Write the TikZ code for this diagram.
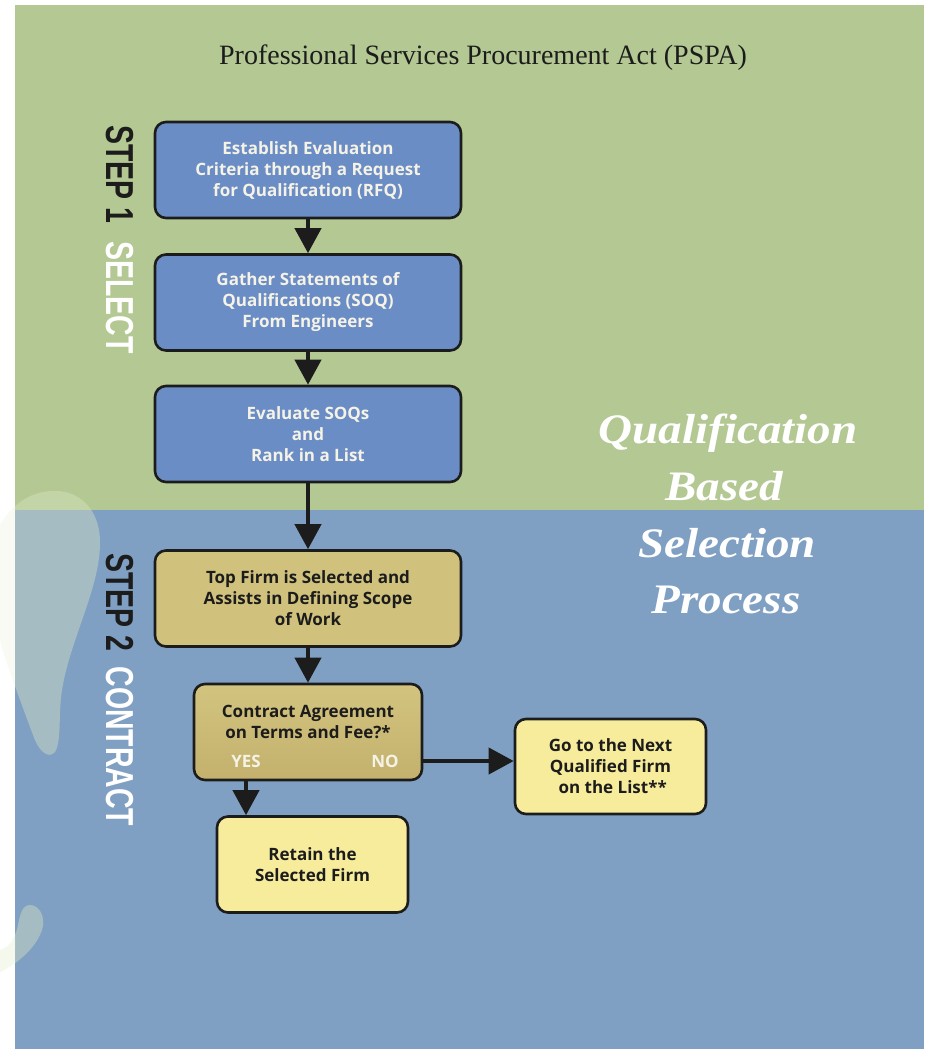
\documentclass[tikz,border=0pt]{standalone}
\usepackage{fontspec}
\setmainfont{Liberation Serif}
\newfontfamily\boxfont{Open Sans}
\newfontfamily\stepfont{Liberation Sans}
\usetikzlibrary{arrows.meta}
\definecolor{bggreen}{HTML}{B3C892}
\definecolor{bgblue}{HTML}{7FA0C2}
\definecolor{boxblue}{HTML}{6B8DC5}
\definecolor{boxgold}{HTML}{D0C27C}
\definecolor{goldtop}{HTML}{D2C47F}
\definecolor{goldbot}{HTML}{C3B16D}
\definecolor{boxyellow}{HTML}{F6EC9C}
\definecolor{inkc}{HTML}{1C1C1C}
\definecolor{paletxt}{HTML}{F5F2E6}
\definecolor{swoosh}{HTML}{DCE8C4}
\tikzset{
  box/.style={draw=inkc, line width=2.6pt, rounded corners=11pt, align=center,
    inner sep=0pt, font=\boxfont\bfseries\fontsize{17}{21}\selectfont},
  bluebox/.style={box, fill=boxblue, text=paletxt, minimum width=306pt, minimum height=96pt},
  goldbox/.style={box, fill=boxgold, text=inkc, minimum width=306pt, minimum height=96pt},
  yellowbox/.style={box, fill=boxyellow, text=inkc, minimum width=191pt, minimum height=96pt},
  boxtext/.style={align=center, inner sep=0pt, text=inkc, font=\boxfont\bfseries\fontsize{17}{21}\selectfont},
  yn/.style={inner sep=0pt, text=paletxt, font=\boxfont\bfseries\fontsize{17}{21}\selectfont},
  arr/.style={draw=inkc, line width=4pt, -{Triangle[width=26pt,length=25pt]}},
  steplabel/.style={rotate=-90, anchor=base west, inner sep=0pt, font=\stepfont\bfseries\fontsize{39}{40}\selectfont},
  qbs/.style={anchor=base, inner sep=0pt, text=white, font=\bfseries\itshape\fontsize{42}{44}\selectfont},
}
\begin{document}
\begin{tikzpicture}[x=1pt,y=-1pt]
\useasboundingbox (0,0) rectangle (924,1049);
\fill[white] (0,0) rectangle (924,1049);
\fill[bggreen] (15,5) rectangle (924,510);
\fill[bgblue] (15,510) rectangle (924,1049);
% decorative swooshes
\begin{scope}
\clip (15,5) rectangle (924,1049);
\fill[swoosh, opacity=0.4] (0,525) .. controls (15,500) and (35,490) .. (58,491)
  .. controls (85,493) and (101,515) .. (100,545)
  .. controls (99,590) and (70,640) .. (62,690)
  .. controls (58,715) and (62,740) .. (55,752)
  .. controls (48,760) and (38,750) .. (33,735)
  .. controls (20,700) and (5,660) .. (0,640) -- cycle;
\fill[swoosh, opacity=0.4] (0,972) .. controls (15,965) and (35,950) .. (42,930)
  .. controls (46,918) and (40,905) .. (30,905)
  .. controls (22,905) and (20,915) .. (18,925)
  .. controls (15,940) and (8,948) .. (0,950) -- cycle;
\end{scope}
\begin{scope}
\clip (0,0) rectangle (15,1049);
\fill[swoosh, opacity=0.2] (0,525) .. controls (15,500) and (35,490) .. (58,491)
  .. controls (85,493) and (101,515) .. (100,545)
  .. controls (99,590) and (70,640) .. (62,690)
  .. controls (58,715) and (62,740) .. (55,752)
  .. controls (48,760) and (38,750) .. (33,735)
  .. controls (20,700) and (5,660) .. (0,640) -- cycle;
\fill[swoosh, opacity=0.3] (0,972) .. controls (15,965) and (35,950) .. (42,930)
  .. controls (46,918) and (40,905) .. (30,905)
  .. controls (22,905) and (20,915) .. (18,925)
  .. controls (15,940) and (8,948) .. (0,950) -- cycle;
\end{scope}
% title
\node[anchor=base, inner sep=0pt, text=inkc, font=\fontsize{28}{30}\selectfont] (title) at (483,65)
  {Professional Services Procurement Act (PSPA)};
% step labels
\node[steplabel] (s1) at (106,125) {\scalebox{0.73}[1]{\textcolor{inkc}{STEP 1}\hspace{25pt}\textcolor{white}{SELECT}}};
\node[steplabel] (s2) at (106,553) {\scalebox{0.73}[1]{\textcolor{inkc}{STEP 2}\hspace{21pt}\textcolor{white}{CONTRACT}}};
% QBS text
\node[qbs] (q1) at (728,443) {\scalebox{1.12}[1]{Qualification}};
\node[qbs] (q2) at (724,500) {\scalebox{1.12}[1]{Based}};
\node[qbs] (q3) at (727,557) {\scalebox{1.12}[1]{Selection}};
\node[qbs] (q4) at (726,613) {\scalebox{1.12}[1]{Process}};
% boxes
\node[bluebox] (b1) at (308,170) {Establish Evaluation\\Criteria through a Request\\for Qualification (RFQ)};
\node[bluebox] (b2) at (308,302.5) {Gather Statements of\\Qualifications (SOQ)\\From Engineers};
\node[bluebox] (b3) at (308,434) {Evaluate SOQs\\and\\Rank in a List};
\node[goldbox] (b4) at (308,598.5) {Top Firm is Selected and\\Assists in Defining Scope\\of Work};
\node[box, top color=goldtop, bottom color=goldbot, minimum width=228pt, minimum height=96pt] (b5) at (308,732) {};
\node[boxtext] (b5t) at (308,722) {Contract Agreement\\on Terms and Fee?*};
\node[yn] (yes) at (246,761) {YES};
\node[yn] (no) at (385,761) {NO};
\node[yellowbox] (b6) at (312.5,864.5) {Retain the\\Selected Firm};
\node[yellowbox, minimum height=95pt] (b7) at (610.5,766.5) {Go to the Next\\Qualified Firm\\\ on the List**};
% arrows
\draw[arr] (b1.south) -- (b2.north);
\draw[arr] (b2.south) -- (b3.north);
\draw[arr] (b3.south) -- (b4.north);
\draw[arr] (b4.south) -- (b5.north);
\draw[arr] (yes |- b5.south) -- (yes |- b6.north);
\draw[arr] (b5.east |- no) -- (b7.west |- no);
\end{tikzpicture}
\end{document}
